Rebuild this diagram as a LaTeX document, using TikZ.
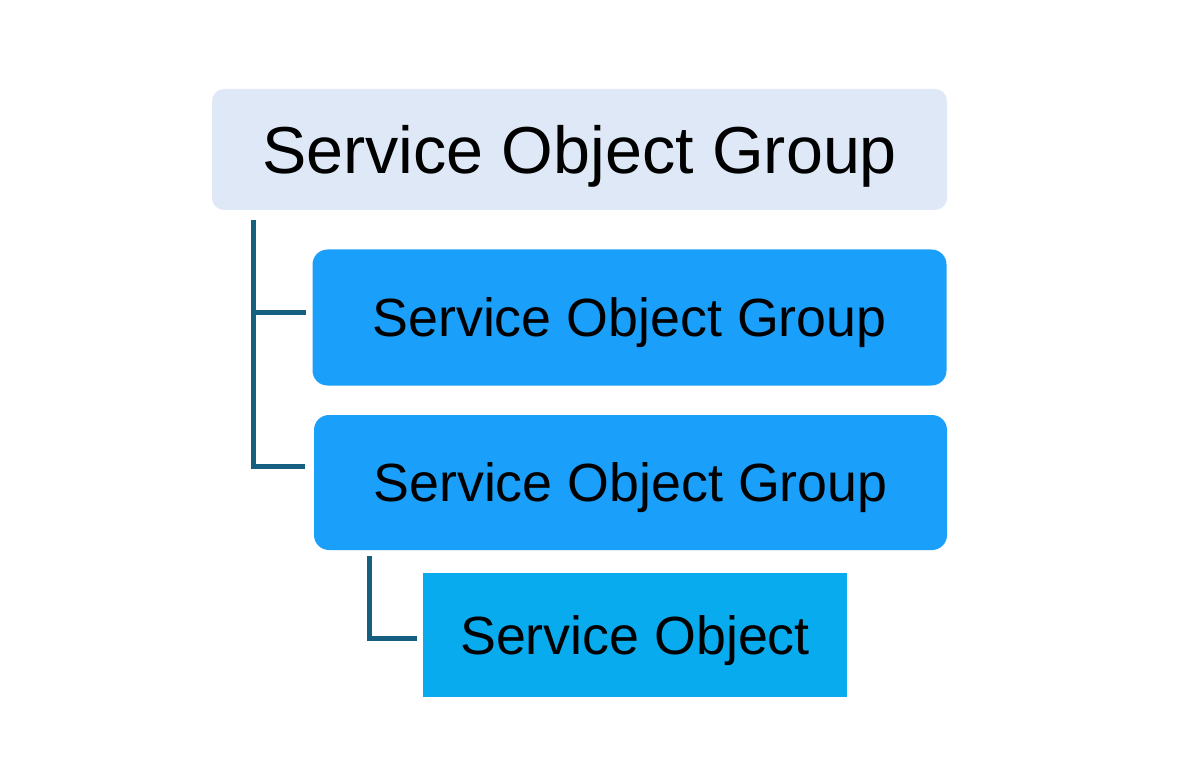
\documentclass[tikz,border=0pt]{standalone}
\usepackage{fontspec}
\setmainfont{Liberation Sans}
\usetikzlibrary{positioning,calc}
\definecolor{SogPale}{RGB}{222,232,246}
\definecolor{SogBlue}{RGB}{26,159,251}
\definecolor{SogCyan}{RGB}{8,172,238}
\definecolor{SogLine}{RGB}{23,95,128}
\tikzset{
  sog/root/.style={
    fill=SogPale,
    rounded corners=0.24cm,
    align=center,
    text=black,
    inner sep=0pt,
    minimum width=14.7cm,
    minimum height=2.42cm,
    text height=27pt,
    text depth=0pt,
    font=\fontsize{37.8}{42}\selectfont
  },
  sog/group/.style={
    fill=SogBlue,
    rounded corners=0.3cm,
    align=center,
    text=black,
    inner sep=0pt,
    minimum width=12.68cm,
    minimum height=2.72cm,
    text height=21.9pt,
    text depth=0pt,
    font=\fontsize{30.6}{34}\selectfont
  },
  sog/item/.style={
    fill=SogCyan,
    align=center,
    text=black,
    inner sep=0pt,
    minimum width=8.48cm,
    minimum height=2.48cm,
    text height=21.9pt,
    text depth=0pt,
    font=\fontsize{30.6}{34}\selectfont
  },
  sog/link/.style={draw=SogLine, line width=0.1cm, line cap=butt, line join=miter}
}
\begin{document}
\begin{tikzpicture}[x=1cm,y=1cm]
  \useasboundingbox (0,0) rectangle (24,15.64);
  \node[sog/root] (root) at (11.59,12.65) {Service Object Group};
  \node[sog/group] (grp1) at (12.59,9.29) {Service Object Group};
  \node[sog/group,minimum width=12.66cm,minimum height=2.7cm] (grp2) at (12.61,5.99) {Service Object Group};
  \node[sog/item] (obj) at (12.7,2.94) {Service Object};
  % tree lines
  \draw[sog/link] ($(root.south west)+(0.84,-0.2)$) |- ($(grp2.west)+(-0.18,0.33)$);
  \draw[sog/link] ($(grp1.west)+(-1.16,0.09)$) -- ($(grp1.west)+(-0.12,0.09)$);
  \draw[sog/link] ($(grp2.south west)+(1.12,-0.12)$) |- ($(obj.west)+(-0.12,-0.06)$);
\end{tikzpicture}
\end{document}
